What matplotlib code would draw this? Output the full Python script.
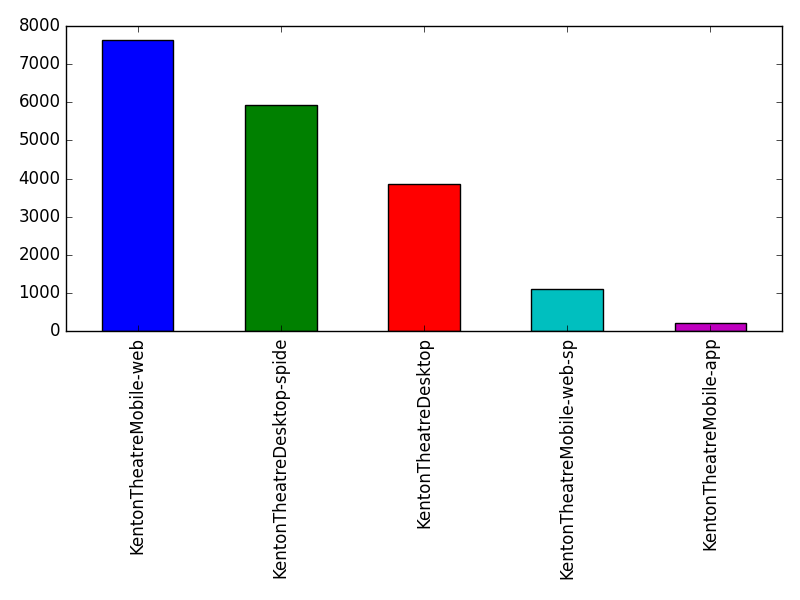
import matplotlib
matplotlib.use('Agg')
import matplotlib.pyplot as plt

sources = ['KentonTheatreMobile-web', 'KentonTheatreDesktop-spide', 'KentonTheatreDesktop',
           'KentonTheatreMobile-web-sp', 'KentonTheatreMobile-app']
counts = [7630, 5925, 3866, 1110, 202]
colors = ['b', 'g', 'r', 'c', 'm']

plt.style.use('classic')
fig = plt.figure(figsize=(8, 6), dpi=100)
ax = fig.add_subplot(111)
x = list(range(len(sources)))
ax.bar(x, counts, width=0.5, color=colors, edgecolor='black', align='center')
ax.set_xticks(x)
ax.set_xticklabels(sources, rotation=90)
ax.set_xlim(-0.5, len(sources) - 0.5)
ax.set_ylim(0, 8000)
fig.subplots_adjust(left=0.0825, right=0.9775, top=0.9567, bottom=0.4483)
plt.savefig('out.png')
plt.close()
